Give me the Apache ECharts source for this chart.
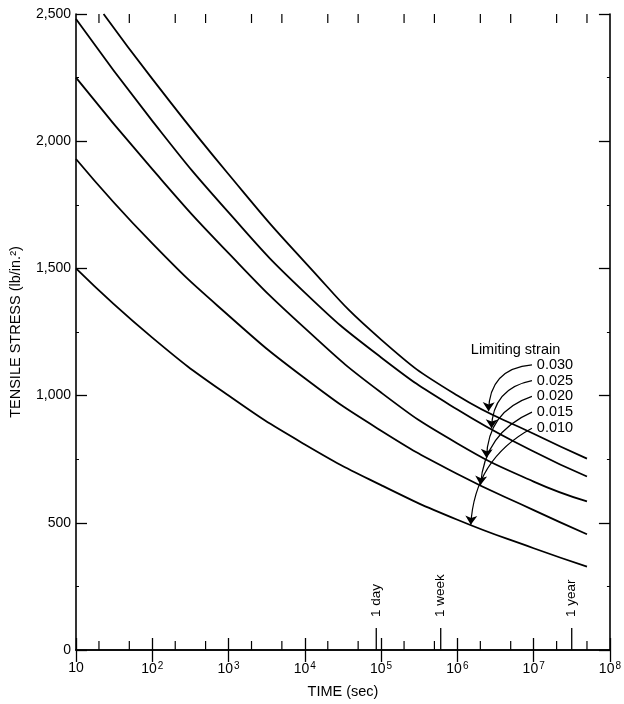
<!DOCTYPE html>
<html>
<head>
<meta charset="utf-8">
<script src="https://cdn.jsdelivr.net/npm/echarts@6/dist/echarts.min.js"></script>
<style>
  html, body { margin: 0; padding: 0; background: #fff; }
  #chart { width: 624px; height: 704px; }
</style>
</head>
<body>
<div id="chart"></div>
<script>
// Creep design curves: tensile stress vs. time for several limiting strains
const FONT = '"Liberation Sans", Arial, sans-serif';

const strainLabels = ['0.030', '0.025', '0.020', '0.015', '0.010'];

// time (s) of each sampled point
const timeSec    = [10, 100, 1e3, 1e4, 1e5, 1e6, 1e7, 5e7];
const time030    = [23, 100, 1e3, 1e4, 1e5, 1e6, 1e7, 5e7];
// tensile stress (lb/in.^2) for each limiting strain
const stress030  = [2500, 2245, 1870, 1525, 1220, 1000, 850, 752];
const stress025  = [2480, 2080, 1720, 1405, 1150, 945, 780, 682];
const stress020  = [2250, 1890, 1560, 1265, 1012, 812, 662, 584];
const stress015  = [1930, 1598, 1315, 1068, 862, 692, 550, 455];
const stress010  = [1500, 1228, 1000, 808, 648, 512, 400, 328];

const curveTimes  = [time030, timeSec, timeSec, timeSec, timeSec];
const curveStress = [stress030, stress025, stress020, stress015, stress010];

// where each leader arrow meets its curve (s)
const arrowTipTime = [2.56e6, 2.8e6, 2.41e6, 2.01e6, 1.5e6];
// leader start time and label positions
const leaderStartTime = 9.5e6;
const labelTime = 1.1e7;
const labelStress = [1121, 1059, 997, 935, 872];
const legendTitle = 'Limiting strain';
const legendTitleTime = 1.5e6;
const legendTitleStress = 1180;
const leaderCurveness = [-0.45, -0.4, -0.35, -0.3, -0.28];

// reference durations marked on the time axis
const markerTime = [86400, 604800, 31557600];
const markerText = ['1 day', '1 week', '1 year'];

// intermediate ticks at 2 and 5 within each decade
const minorTickTime = [20, 50, 200, 500, 2000, 5000, 2e4, 5e4, 2e5, 5e5, 2e6, 5e6, 2e7, 5e7];

function stressAt(k, t) {
  const ts = curveTimes[k], vs = curveStress[k];
  const lt = Math.log10(t);
  for (let i = 0; i < ts.length - 1; i++) {
    const a = Math.log10(ts[i]), b = Math.log10(ts[i + 1]);
    if (lt >= a && lt <= b) {
      const f = (lt - a) / (b - a);
      return vs[i] + f * (vs[i + 1] - vs[i]);
    }
  }
  return vs[vs.length - 1];
}

const chart = echarts.init(document.getElementById('chart'), null, { renderer: 'canvas' });

const curveSeries = curveStress.map((vals, k) => ({
  type: 'line',
  name: strainLabels[k],
  xAxisIndex: 0, yAxisIndex: 0,
  data: vals.map((v, i) => [curveTimes[k][i], v]),
  smooth: 0.5,
  showSymbol: false,
  symbol: 'none',
  lineStyle: { color: '#000', width: 1.8 },
  clip: true,
  silent: true,
  z: 3
}));

const arrowSeries = {
  type: 'lines',
  coordinateSystem: 'cartesian2d',
  xAxisIndex: 0, yAxisIndex: 0,
  symbol: ['none', 'arrow'],
  symbolSize: [0, 9],
  silent: true,
  z: 4,
  lineStyle: { color: '#000', width: 1.2, opacity: 1 },
  data: strainLabels.map((s, k) => ({
    coords: [[leaderStartTime, labelStress[k]], [arrowTipTime[k], stressAt(k, arrowTipTime[k])]],
    lineStyle: { color: '#000', width: 1.2, opacity: 1, curveness: leaderCurveness[k] }
  }))
};

const labelSeries = {
  type: 'custom',
  xAxisIndex: 0, yAxisIndex: 0,
  silent: true,
  clip: false,
  z: 5,
  data: strainLabels.map((s, k) => [labelTime, labelStress[k]]).concat([[legendTitleTime, legendTitleStress]]),
  renderItem(params, api) {
    const p = api.coord([api.value(0), api.value(1)]);
    const idx = params.dataIndex;
    const text = idx < strainLabels.length ? strainLabels[idx] : legendTitle;
    return {
      type: 'text', x: p[0], y: p[1],
      style: { text, fill: '#000', font: '14.5px ' + FONT, align: 'left', verticalAlign: 'middle' }
    };
  }
};

const minorTickSeries = {
  type: 'custom',
  xAxisIndex: 0, yAxisIndex: 0,
  silent: true,
  clip: false,
  z: 6,
  data: minorTickTime.map(t => [t, 0]),
  renderItem(params, api) {
    const x = api.coord([api.value(0), 0])[0];
    const yb = api.coord([api.value(0), 0])[1];
    const yt = api.coord([api.value(0), 2500])[1];
    const st = { stroke: '#000', lineWidth: 1.2 };
    return {
      type: 'group',
      children: [
        { type: 'line', shape: { x1: x, y1: yb, x2: x, y2: yb - 9 }, style: st },
        { type: 'line', shape: { x1: x, y1: yt, x2: x, y2: yt + 9 }, style: st }
      ]
    };
  }
};

const markerSeries = {
  type: 'custom',
  xAxisIndex: 0, yAxisIndex: 0,
  silent: true,
  clip: false,
  z: 6,
  data: markerTime.map(t => [t, 0]),
  renderItem(params, api) {
    const p = api.coord([api.value(0), 0]);
    return {
      type: 'group',
      children: [
        { type: 'line', shape: { x1: p[0], y1: p[1], x2: p[0], y2: p[1] - 22 },
          style: { stroke: '#000', lineWidth: 1.3 } },
        { type: 'text', x: p[0], y: p[1] - 33, rotation: Math.PI / 2,
          style: { text: markerText[params.dataIndex], fill: '#000', font: '13.5px ' + FONT,
                   align: 'left', verticalAlign: 'middle' } }
      ]
    };
  }
};

function decadeLabel(v) {
  const e = Math.round(Math.log10(v));
  return e === 1 ? '{b|10}' : '{b|10}{s|' + e + '}';
}

const xAxisBase = {
  type: 'log',
  logBase: 10,
  min: 10,
  max: 1e8,
  splitLine: { show: false },
  minorTick: { show: false },
  axisLine: { show: true, lineStyle: { color: '#000', width: 1.6 } },
  axisTick: { show: true, inside: true, length: 12, lineStyle: { color: '#000', width: 1.3 } }
};

const yAxisBase = {
  type: 'value',
  min: 0,
  max: 2500,
  interval: 500,
  splitLine: { show: false },
  axisLine: { show: true, lineStyle: { color: '#000', width: 1.6 } },
  axisTick: { show: true, inside: true, length: 11, lineStyle: { color: '#000', width: 1.3 } },
  minorTick: { show: true, splitNumber: 2, length: 3, lineStyle: { color: '#000', width: 1 } }
};

chart.setOption({
  animation: false,
  backgroundColor: '#fff',
  grid: { left: 70, right: 13, top: 14, bottom: 48, containLabel: false },
  xAxis: [
    Object.assign({}, xAxisBase, {
      position: 'bottom',
      name: 'TIME (sec)',
      nameLocation: 'middle',
      nameGap: 34,
      nameTextStyle: { color: '#000', fontFamily: FONT, fontSize: 14.5 },
      axisLabel: {
        show: true, margin: 11, color: '#000',
        formatter: decadeLabel,
        rich: {
          b: { fontFamily: FONT, fontSize: 14, color: '#000' },
          s: { fontFamily: FONT, fontSize: 10, color: '#000', padding: [0, 0, 7, 1] }
        }
      }
    }),
    Object.assign({}, xAxisBase, {
      position: 'top',
      axisLabel: { show: false }
    })
  ],
  yAxis: [
    Object.assign({}, yAxisBase, {
      position: 'left',
      name: 'TENSILE STRESS (lb/in.\u00b2)',
      nameLocation: 'middle',
      nameRotate: 90,
      nameGap: 53,
      nameTextStyle: { color: '#000', fontFamily: FONT, fontSize: 14.5 },
      axisLabel: {
        show: true, margin: 5, color: '#000', fontFamily: FONT, fontSize: 14,
        formatter: v => v.toLocaleString('en-US')
      }
    }),
    Object.assign({}, yAxisBase, {
      position: 'right',
      axisLabel: { show: false }
    })
  ],
  series: curveSeries.concat([arrowSeries, labelSeries, minorTickSeries, markerSeries])
});
</script>
</body>
</html>
